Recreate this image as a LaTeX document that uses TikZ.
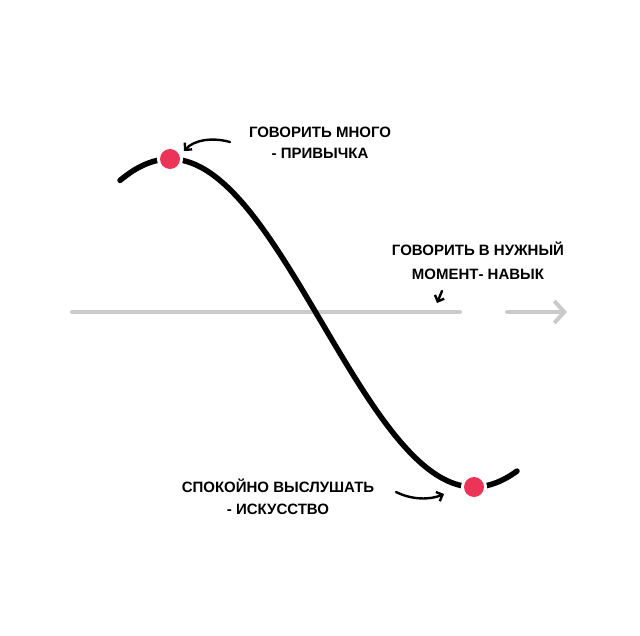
\documentclass[tikz,border=0pt]{standalone}
\usepackage{fontspec}
\setmainfont{Liberation Sans}
\usetikzlibrary{arrows.meta,positioning}
\definecolor{axisgray}{HTML}{CACACA}
\definecolor{dotred}{HTML}{EC3459}

\begin{document}
\begin{tikzpicture}[x=1pt,y=-1pt,
    lbl/.style={align=center,inner sep=0pt,font=\bfseries\fontsize{15}{20.5}\selectfont},
    dot/.style={circle,fill=dotred,inner sep=0pt,minimum size=20pt,preaction={draw=white,line width=6pt}},
    pointer/.style={line width=2.4pt,line cap=round,-{Straight Barb[length=5pt,width=10pt]}}]
    \useasboundingbox (0,0) rectangle (640,636);
    % axis in two pieces, the right one carries the head
    \coordinate (axl) at (72,312);
    \coordinate (axm) at (460,312);
    \coordinate (axa) at (507,312);
    \coordinate (axr) at (567,312);
    \draw[axisgray,line width=4pt,line cap=round] (axl) -- (axm);
    \draw[axisgray,line width=4pt,line cap=round,-{Straight Barb[length=10pt,width=22pt]}] (axa) -- (axr);
    % the wave
    \draw[black,line width=5.5pt,line cap=round] plot[domain=120:517,samples=120,smooth] (\x,{323-164*cos(0.59211*(\x-170))});
    \node[dot] (peak) at (170,159) {};
    \node[dot] (trough) at (474,487) {};
    % labels
    \node[lbl] (talk) at (320,143) {ГОВОРИТЬ МНОГО\\- ПРИВЫЧКА};
    \node[lbl,font=\bfseries\fontsize{15}{23.5}\selectfont] (moment) at (478,261) {ГОВОРИТЬ В НУЖНЫЙ\\МОМЕНТ- НАВЫК};
    \node[lbl,font=\bfseries\fontsize{15}{21.5}\selectfont] (listen) at (278,497) {СПОКОЙНО ВЫСЛУШАТЬ\\- ИСКУССТВО};
    % pointers
    \coordinate (p1) at (230,142);
    \coordinate (p1e) at (184,151);
    \draw[pointer] (p1) .. controls (212,137) and (194,140) .. (p1e);
    \coordinate (p2) at (442,291);
    \coordinate (p2e) at (437,303);
    \draw[pointer] (p2) -- (p2e);
    \coordinate (p3) at (396,492);
    \coordinate (p3e) at (444,494);
    \draw[pointer] (p3) .. controls (412,500) and (430,500) .. (p3e);
\end{tikzpicture}
\end{document}
